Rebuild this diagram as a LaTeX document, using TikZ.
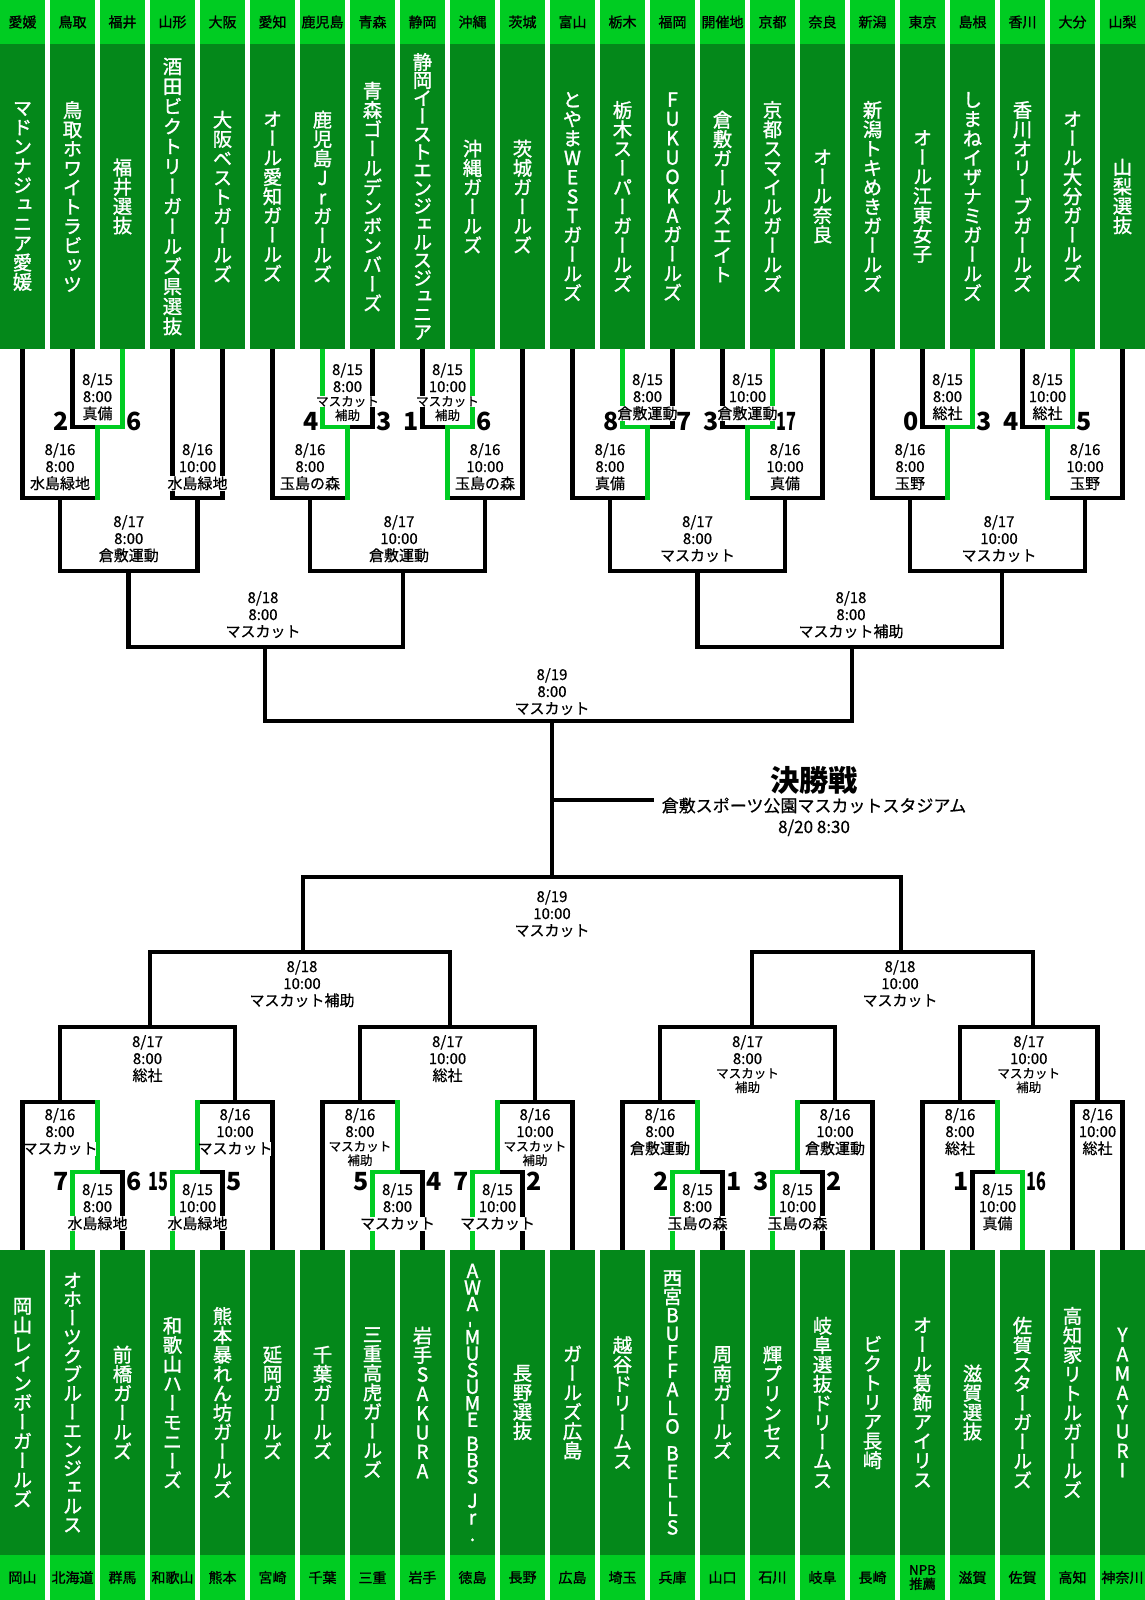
\documentclass[tikz,border=0pt]{standalone}
\usepackage{fontspec}
\usepackage{graphicx}
\setmainfont{Noto Sans CJK JP}
\newfontfamily\jp{Noto Sans CJK JP}
\newfontfamily\jpl[FakeBold=0.6]{Noto Sans CJK JP}
\newfontfamily\jph[FakeBold=1.2]{Noto Sans CJK JP}
\newfontfamily\namefont[RawFeature=+vert,FakeBold=1.4]{Noto Sans CJK JP}
\definecolor{bgreen}{HTML}{00CC22}
\definecolor{dgreen}{HTML}{04881A}
\definecolor{wgreen}{HTML}{00CC22}
\makeatletter
\def\vsdefault{14.5pt}
\def\vs@end{\vs@end@}
\newcommand\vstack[2][\vsdefault]{\vbox{\baselineskip=#1\relax\lineskiplimit=-\maxdimen\lineskip=0pt\relax\vs@loop#2\vs@end}}
\def\vs@loop#1{\ifx\vs@end#1\else\vs@one#1\expandafter\vs@loop\fi}
\def\vs@one#1{\ifx|#1\kern0.45\baselineskip\else\ifx-#1\hbox to 1.2em{\hss\rotatebox[origin=c]{90}{-}\hss}\else\hbox to 1.2em{\hss#1\hss}\fi\fi}
\makeatother
\newcounter{labc}
\newcommand\lline[4]{\stepcounter{labc}\node[#1,anchor=base] (lb\arabic{labc}) at (#2,#3) {#4};}
\newcommand\labIII[5]{\lline{lab}{#1}{#2}{#3}\lline{lab}{#1}{#2+17}{#4}\lline{lab}{#1}{#2+34}{#5}}
\newcommand\labIV[6]{\lline{lab}{#1}{#2}{#3}\lline{lab}{#1}{#2+17}{#4}\lline{labs}{#1}{#2+31}{#5}\lline{labs}{#1}{#2+45}{#6}}
\newcommand\scL[3]{\stepcounter{labc}\node[score,anchor=base east] (sc\arabic{labc}) at (#1-4,#2) {#3};}
\newcommand\scR[3]{\stepcounter{labc}\node[score,anchor=base west] (sc\arabic{labc}) at (#1+4,#2) {#3};}
\newcommand\two[1]{\scalebox{0.65}[1]{#1}}
\begin{document}
\begin{tikzpicture}[x=0.75pt,y=-0.75pt,
 tbox/.style={rectangle,fill=dgreen,minimum width=33.75pt,minimum height=228.75pt,inner sep=0pt,text=white,font=\namefont\fontsize{14.5}{14.5}\selectfont},
 hdr/.style={rectangle,fill=bgreen,minimum width=33.75pt,inner sep=0pt,text=black,font=\jph\fontsize{10.5}{11}\selectfont,align=center},
 ln/.style={line width=3.4pt,black},
 win/.style={line width=3.4pt,wgreen,line cap=rect,shorten <=1.7pt},
 lab/.style={fill=white,inner xsep=-1.5pt,inner ysep=0.4pt,font=\jpl\fontsize{11.25}{12}\selectfont},
 labs/.style={lab,font=\jpl\fontsize{9.4}{10}\selectfont},
 score/.style={inner sep=0pt,font=\jp\bfseries\fontsize{18.75}{19}\selectfont}]
\useasboundingbox (0,0) rectangle (1145,1600);
\fill[white] (0,0) rectangle (1145,1600);
% headers
\foreach \i/\p in {0/愛媛,1/鳥取,2/福井,3/山形,4/大阪,5/愛知,6/鹿児島,7/青森,8/静岡,9/沖縄,10/茨城,11/富山,12/栃木,13/福岡,14/開催地,15/京都,16/奈良,17/新潟,18/東京,19/島根,20/香川,21/大分,22/山梨}
  \node[hdr,minimum height=33pt] (th\i) at ({22.5+50*\i},22) {\p};
\foreach \i/\p in {0/岡山,1/北海道,2/群馬,3/和歌山,4/熊本,5/宮崎,6/千葉,7/三重,8/岩手,9/徳島,10/長野,11/広島,12/埼玉,13/兵庫,14/山口,15/石川,16/岐阜,17/長崎,19/滋賀,20/佐賀,21/高知,22/神奈川}
  \node[hdr,minimum height=33.75pt] (bh\i) at ({22.5+50*\i},1577.5) {\p};
\node[hdr,minimum height=33.75pt,font=\jph\fontsize{10}{10.5}\selectfont] (bh18) at (922.5,1577.5) {NPB\\推薦};
% top teams
\node[tbox] (t0) at (22.5,196.5) {\vstack{マドンナジュニア愛媛}};
\node[tbox] (t1) at (72.5,196.5) {\vstack{鳥取ホワイトラビッツ}};
\node[tbox] (t2) at (122.5,196.5) {\vstack{福井選抜}};
\node[tbox] (t3) at (172.5,196.5) {\vstack[15pt]{酒田ビクトリーガールズ県選抜}};
\node[tbox] (t4) at (222.5,196.5) {\vstack{大阪ベストガールズ}};
\node[tbox] (t5) at (272.5,196.5) {\vstack{オール愛知ガールズ}};
\node[tbox] (t6) at (322.5,196.5) {\vstack{鹿児島Jrガールズ}};
\node[tbox] (t7) at (372.5,196.5) {\vstack{青森ゴールデンボンバーズ}};
\node[tbox] (t8) at (422.5,196.5) {\vstack[13.5pt]{静岡イーストエンジェルスジュニア}};
\node[tbox] (t9) at (472.5,196.5) {\vstack{沖縄ガールズ}};
\node[tbox] (t10) at (522.5,196.5) {\vstack{茨城ガールズ}};
\node[tbox] (t11) at (572.5,196.5) {\vstack{とやまWESTガールズ}};
\node[tbox] (t12) at (622.5,196.5) {\vstack{栃木スーパーガールズ}};
\node[tbox] (t13) at (672.5,196.5) {\vstack{FUKUOKAガールズ}};
\node[tbox] (t14) at (722.5,196.5) {\vstack{倉敷ガールズエイト}};
\node[tbox] (t15) at (772.5,196.5) {\vstack{京都スマイルガールズ}};
\node[tbox] (t16) at (822.5,196.5) {\vstack{オール奈良}};
\node[tbox] (t17) at (872.5,196.5) {\vstack{新潟トキめきガールズ}};
\node[tbox] (t18) at (922.5,196.5) {\vstack{オール江東女子}};
\node[tbox] (t19) at (972.5,196.5) {\vstack{しまねイザナミガールズ}};
\node[tbox] (t20) at (1022.5,196.5) {\vstack{香川オリーブガールズ}};
\node[tbox] (t21) at (1072.5,196.5) {\vstack{オール大分ガールズ}};
\node[tbox] (t22) at (1122.5,196.5) {\vstack{山梨選抜}};
% bottom teams
\node[tbox] (b0) at (22.5,1402.5) {\vstack{岡山レインボーガールズ}};
\node[tbox] (b1) at (72.5,1402.5) {\vstack[14.1pt]{オホーツクブルーエンジェルス}};
\node[tbox] (b2) at (122.5,1402.5) {\vstack{前橋ガールズ}};
\node[tbox] (b3) at (172.5,1402.5) {\vstack{和歌山ハーモニーズ}};
\node[tbox] (b4) at (222.5,1402.5) {\vstack{熊本暴れん坊ガールズ}};
\node[tbox] (b5) at (272.5,1402.5) {\vstack{延岡ガールズ}};
\node[tbox] (b6) at (322.5,1402.5) {\vstack{千葉ガールズ}};
\node[tbox] (b7) at (372.5,1402.5) {\vstack{三重高虎ガールズ}};
\node[tbox] (b8) at (422.5,1402.5) {\vstack{岩手SAKURA}};
\node[tbox] (b9) at (472.5,1402.5) {\vstack[12.4pt]{AWA-MUSUME|BBS|Jr.}};
\node[tbox] (b10) at (522.5,1402.5) {\vstack{長野選抜}};
\node[tbox] (b11) at (572.5,1402.5) {\vstack{ガールズ広島}};
\node[tbox] (b12) at (622.5,1402.5) {\vstack{越谷ドリームス}};
\node[tbox] (b13) at (672.5,1402.5) {\vstack[13.9pt]{西宮BUFFALO|BELLS}};
\node[tbox] (b14) at (722.5,1402.5) {\vstack{周南ガールズ}};
\node[tbox] (b15) at (772.5,1402.5) {\vstack{輝プリンセス}};
\node[tbox] (b16) at (822.5,1402.5) {\vstack{岐阜選抜ドリームス}};
\node[tbox] (b17) at (872.5,1402.5) {\vstack{ビクトリア長崎}};
\node[tbox] (b18) at (922.5,1402.5) {\vstack{オール葛飾アイリス}};
\node[tbox] (b19) at (972.5,1402.5) {\vstack{滋賀選抜}};
\node[tbox] (b20) at (1022.5,1402.5) {\vstack{佐賀スターガールズ}};
\node[tbox] (b21) at (1072.5,1402.5) {\vstack{高知家リトルガールズ}};
\node[tbox] (b22) at (1122.5,1402.5) {\vstack{YAMAYURI}};
% match coordinates top
\coordinate (p1) at (97.5,427); \coordinate (p2) at (347.5,427); \coordinate (p3) at (447.5,427);
\coordinate (p4) at (647.5,427); \coordinate (p5) at (747.5,427); \coordinate (p6) at (947.5,427);
\coordinate (p7) at (1047.5,427);
\coordinate (qA) at (60,498); \coordinate (qB) at (197.5,498); \coordinate (qC) at (310,498);
\coordinate (qD) at (485,498); \coordinate (qE) at (610,498); \coordinate (qF) at (785,498);
\coordinate (qG) at (910,498); \coordinate (qH) at (1085,498);
\coordinate (rAB) at (128.75,571); \coordinate (rCD) at (403,571);
\coordinate (rEF) at (697.5,571); \coordinate (rGH) at (1002,571);
\coordinate (sL) at (265,647); \coordinate (sR) at (852,647);
\coordinate (fT) at (552,721); \coordinate (fB) at (552,877);
\coordinate (fM) at (552,800); \coordinate (fS) at (654,800);
% bottom
\coordinate (uL) at (303,952); \coordinate (uR) at (901,952);
\coordinate (vAB) at (150,1027); \coordinate (vCD) at (450,1027);
\coordinate (vEF) at (752,1027); \coordinate (vGH) at (1033,1027);
\coordinate (wA) at (60,1102); \coordinate (wB) at (235,1102); \coordinate (wC) at (360,1102);
\coordinate (wD) at (535,1102); \coordinate (wE) at (660,1102); \coordinate (wF) at (835,1102);
\coordinate (wG) at (960,1102); \coordinate (wH) at (1097.5,1102);
\coordinate (z1) at (97.5,1172); \coordinate (z2) at (197.5,1172); \coordinate (z3) at (397.5,1172);
\coordinate (z4) at (497.5,1172); \coordinate (z5) at (697.5,1172); \coordinate (z6) at (797.5,1172);
\coordinate (z7) at (997.5,1172);
% black brackets top
\draw[ln] (t1.south) |- (p1) -| (t2.south);
\draw[ln] (t6.south) |- (p2) -| (t7.south);
\draw[ln] (t8.south) |- (p3) -| (t9.south);
\draw[ln] (t12.south) |- (p4) -| (t13.south);
\draw[ln] (t14.south) |- (p5) -| (t15.south);
\draw[ln] (t18.south) |- (p6) -| (t19.south);
\draw[ln] (t20.south) |- (p7) -| (t21.south);
\draw[ln] (t0.south) |- (qA) -| (p1);
\draw[ln] (t3.south) |- (qB) -| (t4.south);
\draw[ln] (t5.south) |- (qC) -| (p2);
\draw[ln] (p3) |- (qD) -| (t10.south);
\draw[ln] (t11.south) |- (qE) -| (p4);
\draw[ln] (p5) |- (qF) -| (t16.south);
\draw[ln] (t17.south) |- (qG) -| (p6);
\draw[ln] (p7) |- (qH) -| (t22.south);
\draw[ln] (qA) |- (rAB) -| (qB);
\draw[ln] (qC) |- (rCD) -| (qD);
\draw[ln] (qE) |- (rEF) -| (qF);
\draw[ln] (qG) |- (rGH) -| (qH);
\draw[ln] (rAB) |- (sL) -| (rCD);
\draw[ln] (rEF) |- (sR) -| (rGH);
\draw[ln] (sL) |- (fT) -| (sR);
\draw[ln] (fT) -- (fB);
\draw[ln] (fM) -- (fS);
% black brackets bottom
\draw[ln] (uL) |- (fB) -| (uR);
\draw[ln] (vAB) |- (uL) -| (vCD);
\draw[ln] (vEF) |- (uR) -| (vGH);
\draw[ln] (wA) |- (vAB) -| (wB);
\draw[ln] (wC) |- (vCD) -| (wD);
\draw[ln] (wE) |- (vEF) -| (wF);
\draw[ln] (wG) |- (vGH) -| (wH);
\draw[ln] (b0.north) |- (wA) -| (z1);
\draw[ln] (z2) |- (wB) -| (b5.north);
\draw[ln] (b6.north) |- (wC) -| (z3);
\draw[ln] (z4) |- (wD) -| (b11.north);
\draw[ln] (b12.north) |- (wE) -| (z5);
\draw[ln] (z6) |- (wF) -| (b17.north);
\draw[ln] (b18.north) |- (wG) -| (z7);
\draw[ln] (b21.north) |- (wH) -| (b22.north);
\draw[ln] (b1.north) |- (z1) -| (b2.north);
\draw[ln] (b3.north) |- (z2) -| (b4.north);
\draw[ln] (b7.north) |- (z3) -| (b8.north);
\draw[ln] (b9.north) |- (z4) -| (b10.north);
\draw[ln] (b13.north) |- (z5) -| (b14.north);
\draw[ln] (b15.north) |- (z6) -| (b16.north);
\draw[ln] (b19.north) |- (z7) -| (b20.north);
% winners (green)
\draw[win] (t2.south) |- (p1) -- (p1 |- qA);
\draw[win] (t6.south) |- (p2) -- (p2 |- qC);
\draw[win] (t9.south) |- (p3) -- (p3 |- qD);
\draw[win] (t12.south) |- (p4) -- (p4 |- qE);
\draw[win] (t15.south) |- (p5) -- (p5 |- qF);
\draw[win] (t19.south) |- (p6) -- (p6 |- qG);
\draw[win] (t21.south) |- (p7) -- (p7 |- qH);
\draw[win] (b1.north) |- (z1) -- (z1 |- wA);
\draw[win] (b3.north) |- (z2) -- (z2 |- wB);
\draw[win] (b7.north) |- (z3) -- (z3 |- wC);
\draw[win] (b9.north) |- (z4) -- (z4 |- wD);
\draw[win] (b13.north) |- (z5) -- (z5 |- wE);
\draw[win] (b15.north) |- (z6) -- (z6 |- wF);
\draw[win] (b20.north) |- (z7) -- (z7 |- wG);
% labels top
\labIII{97.5}{385}{8/15}{8:00}{真備}
\labIV{347.5}{375}{8/15}{8:00}{マスカット}{補助}
\labIV{447.5}{375}{8/15}{10:00}{マスカット}{補助}
\labIII{647.5}{385}{8/15}{8:00}{倉敷運動}
\labIII{747.5}{385}{8/15}{10:00}{倉敷運動}
\labIII{947.5}{385}{8/15}{8:00}{総社}
\labIII{1047.5}{385}{8/15}{10:00}{総社}
\labIII{60}{455}{8/16}{8:00}{水島緑地}
\labIII{197.5}{455}{8/16}{10:00}{水島緑地}
\labIII{310}{455}{8/16}{8:00}{玉島の森}
\labIII{485}{455}{8/16}{10:00}{玉島の森}
\labIII{610}{455}{8/16}{8:00}{真備}
\labIII{785}{455}{8/16}{10:00}{真備}
\labIII{910}{455}{8/16}{8:00}{玉野}
\labIII{1085}{455}{8/16}{10:00}{玉野}
\labIII{128.75}{527}{8/17}{8:00}{倉敷運動}
\labIII{399}{527}{8/17}{10:00}{倉敷運動}
\labIII{697.5}{527}{8/17}{8:00}{マスカット}
\labIII{999}{527}{8/17}{10:00}{マスカット}
\labIII{263}{603}{8/18}{8:00}{マスカット}
\labIII{851}{603}{8/18}{8:00}{マスカット補助}
\labIII{552}{680}{8/19}{8:00}{マスカット}
% labels bottom
\labIII{552}{902}{8/19}{10:00}{マスカット}
\labIII{302}{972}{8/18}{10:00}{マスカット補助}
\labIII{900}{972}{8/18}{10:00}{マスカット}
\labIII{147.5}{1047}{8/17}{8:00}{総社}
\labIII{447.5}{1047}{8/17}{10:00}{総社}
\labIV{747.5}{1047}{8/17}{8:00}{マスカット}{補助}
\labIV{1028.75}{1047}{8/17}{10:00}{マスカット}{補助}
\labIII{60}{1120}{8/16}{8:00}{マスカット}
\labIII{235}{1120}{8/16}{10:00}{マスカット}
\labIV{360}{1120}{8/16}{8:00}{マスカット}{補助}
\labIV{535}{1120}{8/16}{10:00}{マスカット}{補助}
\labIII{660}{1120}{8/16}{8:00}{倉敷運動}
\labIII{835}{1120}{8/16}{10:00}{倉敷運動}
\labIII{960}{1120}{8/16}{8:00}{総社}
\labIII{1097.5}{1120}{8/16}{10:00}{総社}
\labIII{97.5}{1195}{8/15}{8:00}{水島緑地}
\labIII{197.5}{1195}{8/15}{10:00}{水島緑地}
\labIII{397.5}{1195}{8/15}{8:00}{マスカット}
\labIII{497.5}{1195}{8/15}{10:00}{マスカット}
\labIII{697.5}{1195}{8/15}{8:00}{玉島の森}
\labIII{797.5}{1195}{8/15}{10:00}{玉島の森}
\labIII{997.5}{1195}{8/15}{10:00}{真備}
% scores top
\scL{72.5}{430}{2}\scR{122.5}{430}{6}
\scL{322.5}{430}{4}\scR{372.5}{430}{3}
\scL{422.5}{430}{1}\scR{472.5}{430}{6}
\scL{622.5}{430}{8}\scR{672.5}{430}{7}
\scL{722.5}{430}{3}\scR{772.5}{430}{\two{17}}
\scL{922.5}{430}{0}\scR{972.5}{430}{3}
\scL{1022.5}{430}{4}\scR{1072.5}{430}{5}
% scores bottom
\scL{72.5}{1190}{7}\scR{122.5}{1190}{6}
\scL{172.5}{1190}{\two{15}}\scR{222.5}{1190}{5}
\scL{372.5}{1190}{5}\scR{422.5}{1190}{4}
\scL{472.5}{1190}{7}\scR{522.5}{1190}{2}
\scL{672.5}{1190}{2}\scR{722.5}{1190}{1}
\scL{772.5}{1190}{3}\scR{822.5}{1190}{2}
\scL{972.5}{1190}{1}\scR{1022.5}{1190}{\two{16}}
% final
\node[inner sep=0pt,font=\jp\bfseries\fontsize{22}{22}\selectfont] (fin) at (814,780) {決勝戦};
\node[inner sep=0pt,anchor=base,font=\jpl\fontsize{12.75}{13}\selectfont] (venue) at (814,812) {倉敷スポーツ公園マスカットスタジアム};
\node[inner sep=0pt,anchor=base,font=\jpl\fontsize{12.75}{13}\selectfont] (fdate) at (814,833) {8/20 8:30};
\end{tikzpicture}
\end{document}
